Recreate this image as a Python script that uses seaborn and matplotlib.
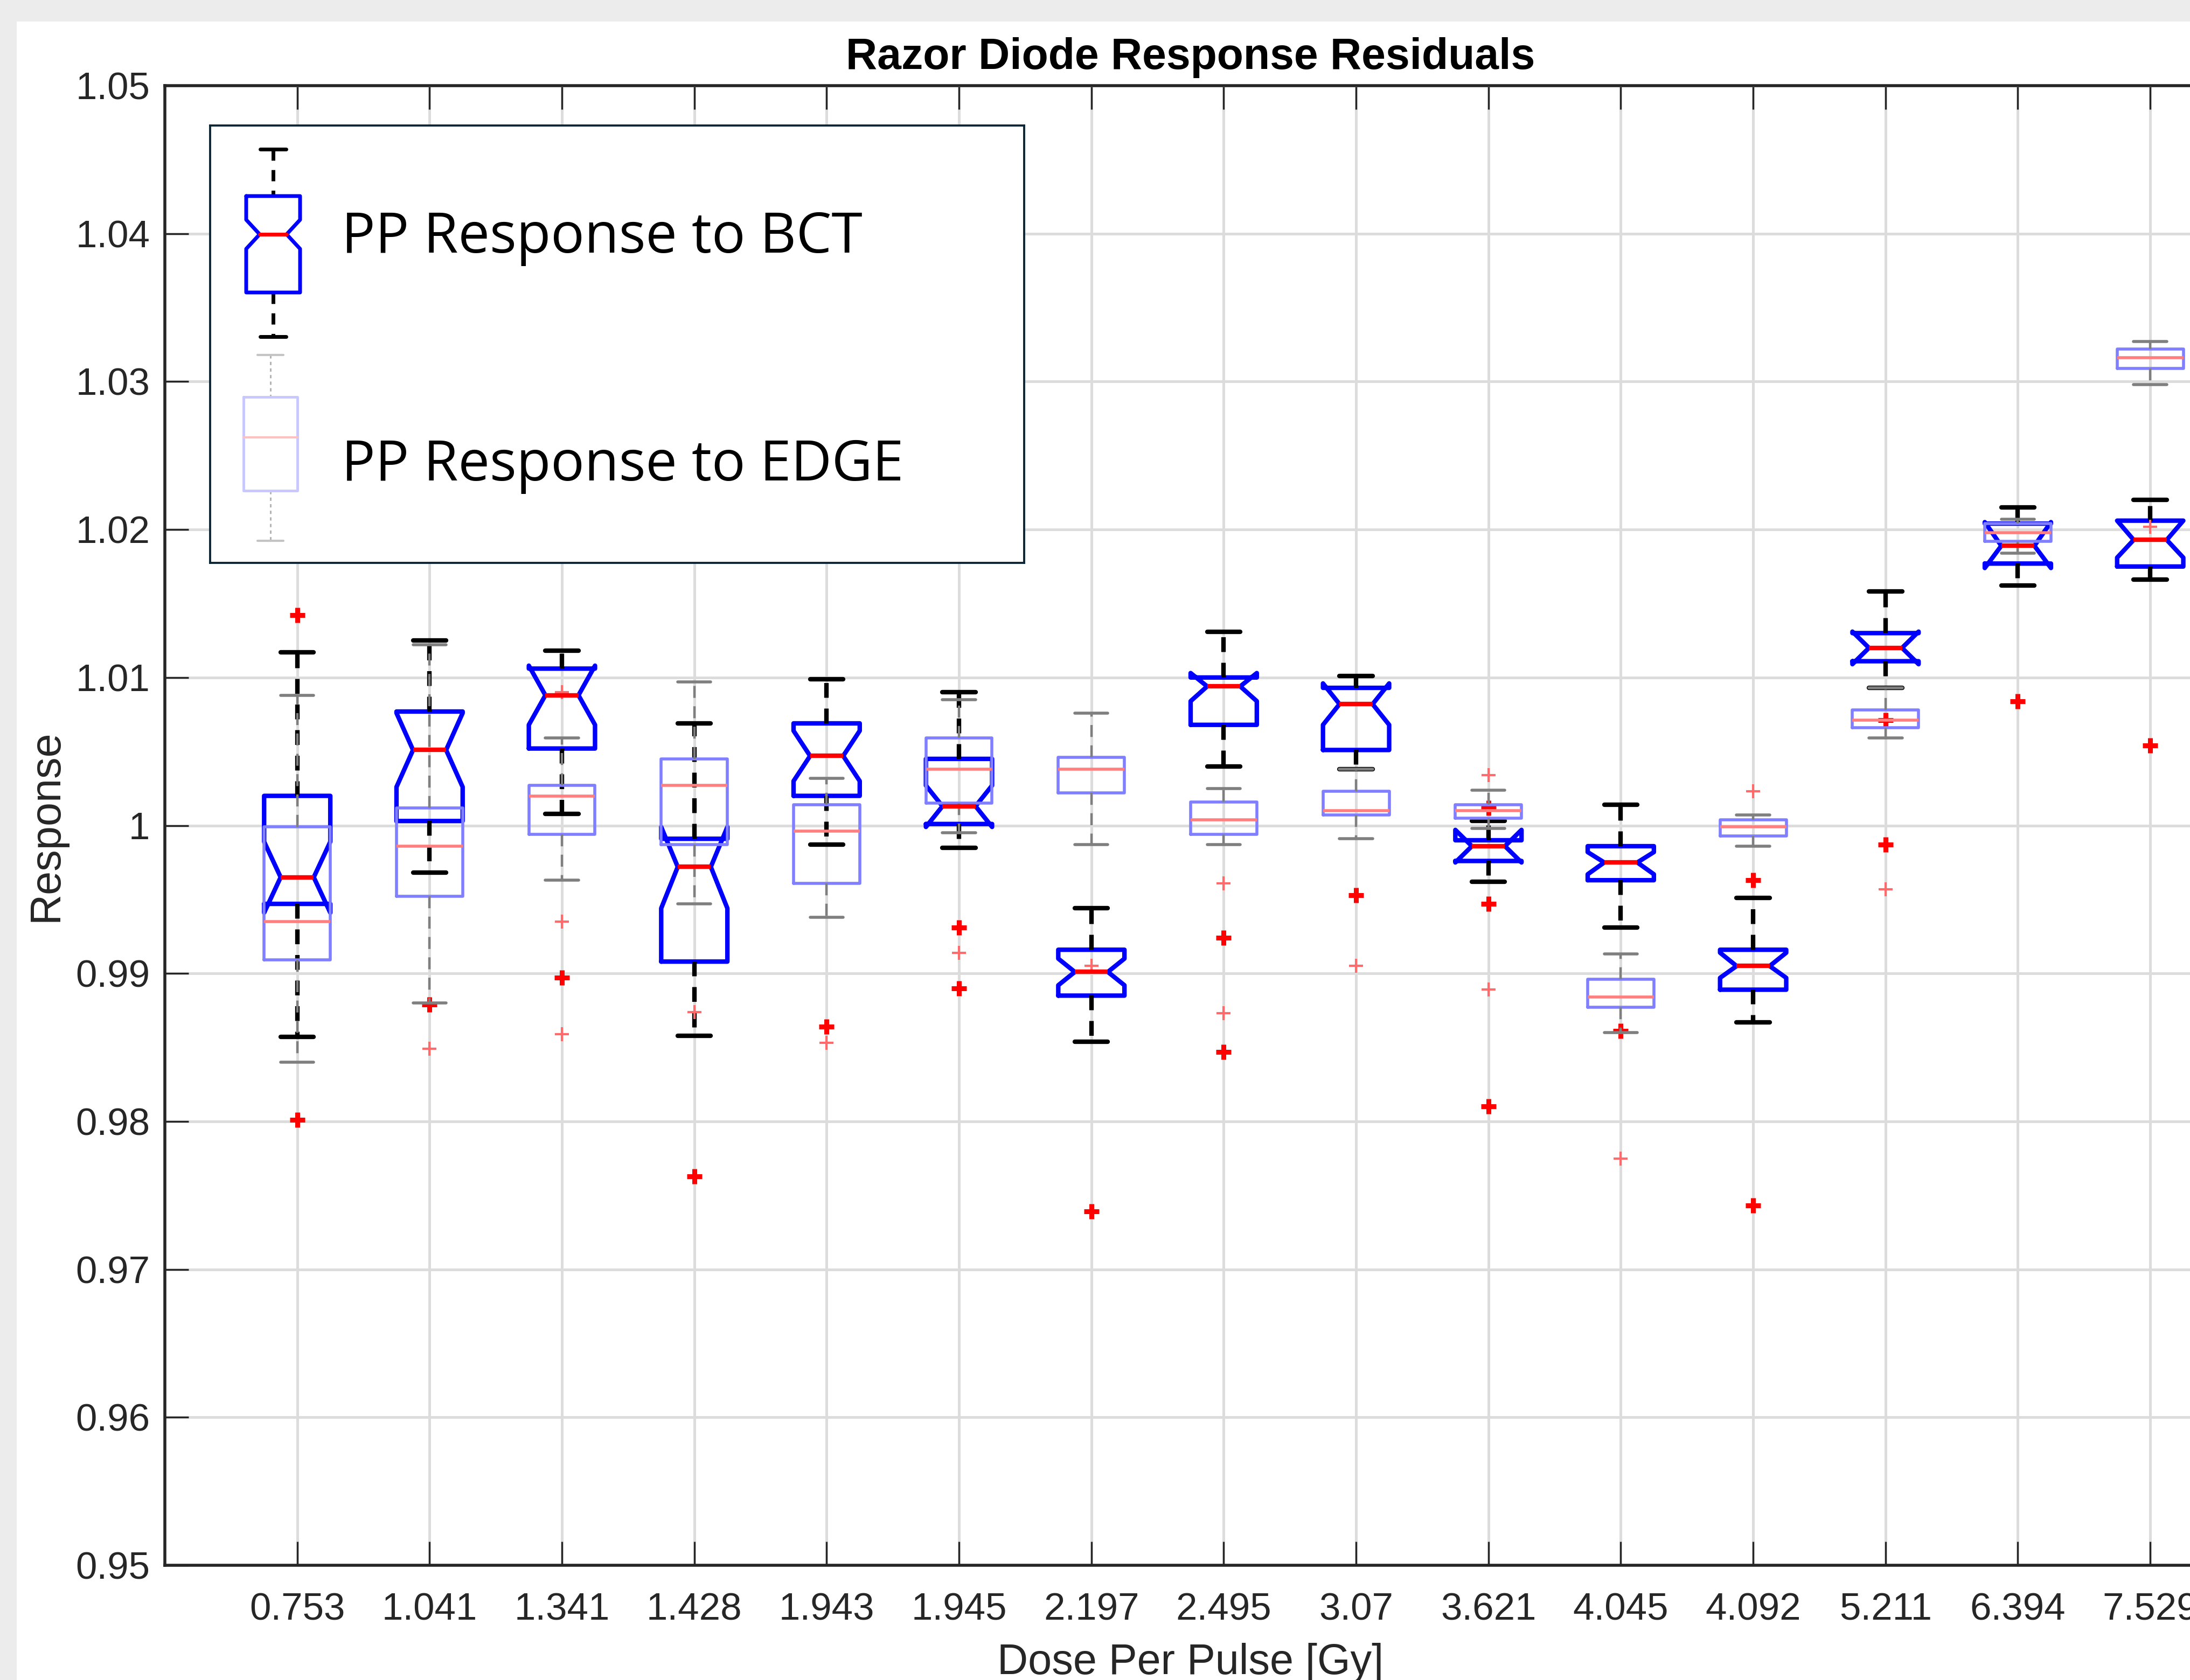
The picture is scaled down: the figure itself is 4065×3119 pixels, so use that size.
import numpy as np
import matplotlib
matplotlib.use('Agg')
import matplotlib.pyplot as plt
import seaborn as sns
from matplotlib.patches import Rectangle

# Dose per pulse categories
dose_labels = ['0.753', '1.041', '1.341', '1.428', '1.943', '1.945', '2.197', '2.495',
               '3.07', '3.621', '4.045', '4.092', '5.211', '6.394', '7.529']

# PP response to BCT (notched boxes)
bct_q1   = [0.9947, 1.0003, 1.0052, 0.9908, 1.0020, 1.0001, 0.9885, 1.0068, 1.0051, 0.9976, 0.9963, 0.9889, 1.0111, 1.0177, 1.0175]
bct_med  = [0.9965, 1.0051, 1.0088, 0.9972, 1.0047, 1.0013, 0.9901, 1.0094, 1.0082, 0.9986, 0.9975, 0.9905, 1.0120, 1.0189, 1.0193]
bct_q3   = [1.0020, 1.0077, 1.0106, 0.9991, 1.0069, 1.0045, 0.9916, 1.0100, 1.0093, 0.9990, 0.9986, 0.9916, 1.0130, 1.0204, 1.0206]
bct_cilo = [0.9941, 1.0026, 1.0068, 0.9944, 1.0030, 0.9999, 0.9892, 1.0084, 1.0068, 0.9975, 0.9967, 0.9897, 1.0109, 1.0174, 1.0181]
bct_cihi = [0.9989, 1.0076, 1.0108, 0.9999, 1.0064, 1.0027, 0.9910, 1.0103, 1.0096, 0.9997, 0.9982, 0.9914, 1.0131, 1.0205, 1.0206]
bct_lo   = [0.9857, 0.9968, 1.0008, 0.9858, 0.9987, 0.9985, 0.9854, 1.0040, 1.0038, 0.9962, 0.9931, 0.9867, 1.0093, 1.0162, 1.0166]
bct_hi   = [1.0117, 1.0125, 1.0118, 1.0069, 1.0099, 1.0090, 0.9944, 1.0131, 1.0101, 1.0003, 1.0014, 0.9951, 1.0158, 1.0215, 1.0220]
bct_out  = [[1.0142, 0.9801], [0.9879], [0.9897], [0.9763], [0.9864], [0.9931, 0.9890], [0.9739],
            [0.9924, 0.9847], [0.9953], [1.0012, 0.9947, 0.9810], [0.9861], [0.9963, 0.9743],
            [1.0071, 0.9987], [1.0084], [1.0054]]

# PP response to EDGE (plain boxes)
edge_q1  = [0.9909, 0.9952, 0.9994, 0.9987, 0.9961, 1.0015, 1.0022, 0.9994, 1.0007, 1.0005, 0.9877, 0.9993, 1.0066, 1.0192, 1.0309]
edge_med = [0.9935, 0.9986, 1.0020, 1.0027, 0.9996, 1.0038, 1.0038, 1.0004, 1.0010, 1.0010, 0.9884, 0.9999, 1.0071, 1.0198, 1.0316]
edge_q3  = [0.9999, 1.0012, 1.0027, 1.0045, 1.0014, 1.0059, 1.0046, 1.0016, 1.0023, 1.0014, 0.9896, 1.0004, 1.0078, 1.0204, 1.0322]
edge_lo  = [0.9840, 0.9880, 0.9963, 0.9947, 0.9938, 0.9995, 0.9987, 0.9987, 0.9991, 0.9998, 0.9860, 0.9986, 1.0059, 1.0184, 1.0298]
edge_hi  = [1.0088, 1.0122, 1.0059, 1.0097, 1.0032, 1.0085, 1.0076, 1.0025, 1.0038, 1.0024, 0.9913, 1.0007, 1.0093, 1.0207, 1.0327]
edge_out = [[], [0.9849], [1.0090, 0.9935, 0.9859], [0.9874], [0.9853], [0.9914], [0.9905],
            [0.9961, 0.9873], [0.9905], [1.0034, 0.9889], [0.9775], [1.0023], [0.9957], [], [1.0202]]

y_ticks = np.round(np.arange(0.95, 1.0501, 0.01), 2)

sns.set_theme(style='white')
plt.rcParams['font.family'] = ['Liberation Sans', 'DejaVu Sans']

W, H = 4065, 3119
fig = plt.figure(figsize=(W / 100, H / 100), dpi=100, facecolor='#ececec')
fig.add_artist(Rectangle((31 / W, 0), 1, 1 - 40 / H, transform=fig.transFigure,
                         facecolor='white', edgecolor='none', zorder=-10))

# axes runs off the right edge like the cropped screenshot
ax = fig.add_axes([306 / W, 213 / H, 3808 / W, 2747 / H])
ax.set_facecolor('white')

pos = np.arange(1, len(dose_labels) + 1)

bct_stats = []
for i in range(len(dose_labels)):
    bct_stats.append(dict(q1=bct_q1[i], med=bct_med[i], q3=bct_q3[i], whislo=bct_lo[i], whishi=bct_hi[i],
                          cilo=bct_cilo[i], cihi=bct_cihi[i], fliers=bct_out[i]))
edge_stats = []
for i in range(len(dose_labels)):
    edge_stats.append(dict(q1=edge_q1[i], med=edge_med[i], q3=edge_q3[i], whislo=edge_lo[i], whishi=edge_hi[i],
                           fliers=edge_out[i]))

lw = 6
ax.bxp(bct_stats, positions=pos, widths=0.5, shownotches=True, manage_ticks=False,
       boxprops=dict(color='blue', linewidth=lw),
       whiskerprops=dict(color='black', linewidth=lw, linestyle=(0, (3.3, 2.4))),
       capprops=dict(color='black', linewidth=lw),
       medianprops=dict(color='red', linewidth=lw),
       flierprops=dict(marker='+', markeredgecolor='red', markersize=20, markeredgewidth=6.5, linestyle='none'))

ax.bxp(edge_stats, positions=pos, widths=0.5, shownotches=False, manage_ticks=False,
       boxprops=dict(color='#7f7fff', linewidth=4),
       whiskerprops=dict(color='#7f7f7f', linewidth=3.2, linestyle=(0, (5, 3.5))),
       capprops=dict(color='#7f7f7f', linewidth=4),
       medianprops=dict(color='#ff7f7f', linewidth=4),
       flierprops=dict(marker='+', markeredgecolor='#ff6a6a', markersize=19, markeredgewidth=3, linestyle='none'))

ax.set_xlim(0, 15.5)
ax.set_ylim(0.95, 1.05)
ax.set_xticks(pos)
ax.set_xticklabels(dose_labels)
ax.set_yticks(y_ticks)
ax.set_yticklabels([f'{v:g}' for v in y_ticks])
ax.grid(True, color='#dcdcdc', linewidth=3.6)
ax.set_axisbelow(True)
ax.tick_params(axis='x', direction='in', length=32, width=2.4, color='#262626', labelsize=51,
               labelcolor='#262626', top=True, bottom=True, pad=36)
ax.tick_params(axis='y', direction='in', length=32, width=2.4, color='#262626', labelsize=51,
               labelcolor='#262626', left=True, pad=20)
for side in ['left', 'top', 'bottom']:
    ax.spines[side].set_color('#262626')
    ax.spines[side].set_linewidth(4)
ax.spines['right'].set_visible(False)

ax.set_xlabel('Dose Per Pulse [Gy]', fontsize=57, color='#262626')
ax.xaxis.set_label_coords(0.5, (69 - 213) / 2747)
ax.set_ylabel('Response', fontsize=57, color='#262626')
ax.yaxis.set_label_coords((123 - 306) / 3808, 0.5)
fig.text(2210 / W, 1 - 128 / H, 'Razor Diode Response Residuals', fontsize=58, fontweight='bold',
         ha='center', va='baseline', color='black')

# legend box drawn in pixel units
lax = fig.add_axes([390 / W, (H - 1045) / H, 1511 / W, 812 / H])
lax.set_xlim(390, 1901)
lax.set_ylim(1045, 233)
lax.set_xticks([])
lax.set_yticks([])
lax.set_facecolor('white')
for s in lax.spines.values():
    s.set_color('#0d2636')
    s.set_linewidth(2.8)

# BCT glyph
xc, hw, nw = 507, 50, 25
lax.plot([xc, xc], [277, 364], color='black', lw=5, ls=(0, (3, 2.5)))
lax.plot([xc, xc], [543, 625], color='black', lw=5, ls=(0, (3, 2.5)))
lax.plot([xc - 24, xc + 24], [277, 277], color='black', lw=5)
lax.plot([xc - 24, xc + 24], [625, 625], color='black', lw=5)
lax.plot([xc - hw, xc + hw, xc + hw, xc + nw, xc + hw, xc + hw, xc - hw, xc - hw, xc - nw, xc - hw, xc - hw],
         [364, 364, 408, 435, 462, 543, 543, 462, 435, 408, 364], color='blue', lw=5)
lax.plot([xc - nw, xc + nw], [435, 435], color='red', lw=5)
lax.text(634, 469, 'PP Response to BCT', fontsize=75, family='Open Sans', va='baseline', color='black')

# EDGE glyph
xc = 502
lax.plot([xc, xc], [659, 737], color='#b4b4b4', lw=2.2, ls=(0, (2, 2)))
lax.plot([xc, xc], [911, 1004], color='#b4b4b4', lw=2.2, ls=(0, (2, 2)))
lax.plot([xc - 24, xc + 24], [659, 659], color='#c4c4c4', lw=3)
lax.plot([xc - 24, xc + 24], [1004, 1004], color='#c4c4c4', lw=3)
lax.plot([xc - hw, xc + hw, xc + hw, xc - hw, xc - hw], [737, 737, 911, 911, 737], color='#c8c8ff', lw=3.5)
lax.plot([xc - hw, xc + hw], [812, 812], color='#ffc0c0', lw=3)
lax.text(634, 892, 'PP Response to EDGE', fontsize=75, family='Open Sans', va='baseline', color='black')

fig.savefig('out.png', dpi=100, facecolor=fig.get_facecolor())
